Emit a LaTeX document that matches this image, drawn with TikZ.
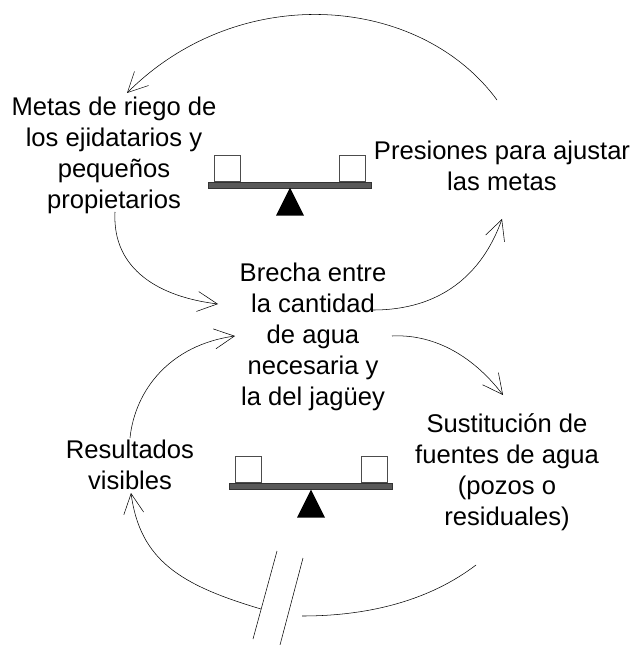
\documentclass[tikz,border=0pt]{standalone}
\usepackage{fontspec}
\setmainfont{Liberation Sans}
\usetikzlibrary{positioning,arrows.meta,shapes.geometric}
\tikzset{
	labeltext/.style={align=center, font=\fontsize{19.2}{23.2}\selectfont, inner sep=0pt},
	weight/.style={draw=black!70, fill=white, minimum width=19.5pt, minimum height=19.5pt, inner sep=0pt, anchor=south},
	plank/.style={draw=black!80, fill=black!65, minimum width=122pt, minimum height=4.5pt, inner sep=0pt},
	pivot/.style={fill=black, isosceles triangle, shape border rotate=90, isosceles triangle stretches, minimum width=21pt, minimum height=21pt, inner sep=0pt, anchor=apex},
	looparrow/.style={-{Straight Barb[length=15pt, width=15pt]}, thin}
}
\begin{document}
\begin{tikzpicture}[x=0.75pt, y=-0.75pt]
	\useasboundingbox (0,0) rectangle (632,645);
	\node[labeltext] (metas) at (114,155) {Metas de riego de\\los ejidatarios y\\pequeños\\propietarios};
	\node[labeltext] (presiones) at (502,166) {Presiones para ajustar\\las metas};
	\node[labeltext] (brecha) at (313,337) {Brecha entre\\la cantidad\\de agua\\necesaria y\\la del jagüey};
	\node[labeltext] (sustitucion) at (507,472) {Sustitución de\\fuentes de agua\\(pozos o\\residuales)};
	\node[labeltext] (resultados) at (130,465) {Resultados\\visibles};
	
	\node[plank] (planktop) at (290,185) {};
	\node[weight] (w1) at (227,181.5) {};
	\node[weight] (w2) at (352,181.5) {};
	\node[pivot] (p1) at (290,187) {};
	
	\node[plank] (plankbot) at (311,486.5) {};
	\node[weight] (w3) at (248,483) {};
	\node[weight] (w4) at (374,483) {};
	\node[pivot] (p2) at (311,489) {};
	
	\coordinate (a1) at (497,100);
	\coordinate (a2) at (127,93);
	\coordinate (b1) at (115,212);
	\coordinate (b2) at (218,304);
	\coordinate (c1) at (373,310);
	\coordinate (c2) at (502,219);
	\coordinate (d1) at (392,336);
	\coordinate (d2) at (503,395);
	\coordinate (e1) at (130,438);
	\coordinate (e2) at (235,336);
	\coordinate (f1) at (476,565);
	\coordinate (f2) at (302,616);
	\coordinate (f3) at (261,609);
	\coordinate (f4) at (131,493);
	
	\draw[looparrow] (a1) .. controls (420,-5) and (240,-20) .. (a2);
	\draw[looparrow] (b1) .. controls (112,270) and (160,297) .. (b2);
	\draw[looparrow] (c1) .. controls (440,310) and (482,275) .. (c2);
	\draw[looparrow] (d1) .. controls (430,334) and (470,352) .. (d2);
	\draw[looparrow] (e1) .. controls (135,390) and (170,345) .. (e2);
	\draw[looparrow] (f3) .. controls (180,585) and (140,560) .. (f4);
	\draw (f1) .. controls (430,600) and (370,616) .. (f2);
	\coordinate (g1) at (253,639);
	\coordinate (g2) at (277,551);
	\coordinate (g3) at (280,645);
	\coordinate (g4) at (303,558);
	\draw (g1) -- (g2);
	\draw (g3) -- (g4);
\end{tikzpicture}
\end{document}
